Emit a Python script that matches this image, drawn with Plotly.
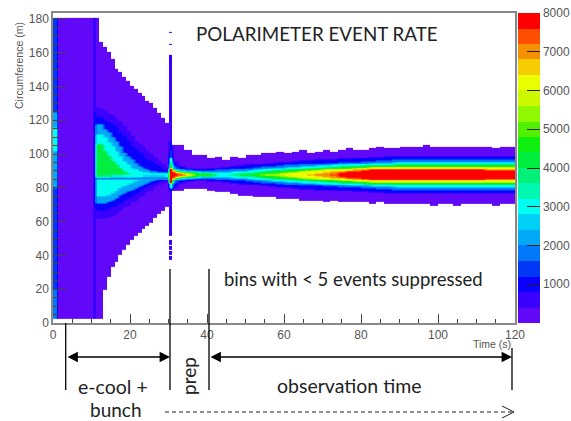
import numpy as np
import plotly.graph_objects as go

# ---------- values ----------
# left-hand columns: (t0, t1, y edges, values between edges)
STRIP_EDGES = [3, 20, 60, 80, 102, 116, 125, 181]
STRIP_VALUES = [1800, 1400, 1400, 2200, 3000, 2200, 1400]
EARLY_COLUMNS = [
    (0, 0.5, STRIP_EDGES, STRIP_VALUES),
    (0.5, 1, STRIP_EDGES, STRIP_VALUES),
    (1, 1.4, [3, 181], [300]),
    (1.4, 10.1, [3, 181], [300]),
    (10.1, 10.5, [3, 181], [300]),
    (10.5, 11, [3, 70, 125, 181], [600, 1000, 600]),
]
# injection spike column
SPIKE_T = [30, 30.3, 30.7, 31]
SPIKE_EDGES = [38, 40, 41, 43, 44, 46, 47, 50, 52, 78, 80, 83, 92, 95, 98, 102, 108, 159, 165, 166, 172, 173]
SPIKE_VALUES = [400, None, 400, None, 400, None, 400, None, 400, 1000, 3000, 7800, 4200, 3000, 1400, 1000, 400, None, 400, None, 400]

# cooling fan, one column per second from t = 11
FAN_T = [11, 12, 13, 14, 15, 16, 17, 18, 19, 20, 21, 22, 23, 24, 25, 26, 27, 28, 29, 30]
FAN_TOP = [181, 167, 164, 161, 157, 151, 149, 146, 144, 141, 139, 137, 135, 132, 131, 128, 125, 122, 119]
FAN_BOT = [3, 3, 20, 28, 34, 37, 41, 44, 47, 50, 52, 54, 56, 58, 60, 63, 65, 67, 69]
FAN_U_INDIGO = [128, 127, 126, 124, 123, 121, 119, 117, 114, 111, 108, 106, 104, 102, 100, 98, 96, 94, 92]
FAN_U_BLUE = [122, 122, 120, 119, 118, 116, 113, 111, 108, 105, 103, 101, 99, 97, 96, 94, 93, 91, 90]
FAN_U_LB = [118, 118, 115, 113, 110, 108, 105, 101, 99, 97, 95, 93, 92, 91, 90, 90, 89.5, 89.5, 89.5]
FAN_U_CYAN = [112, 112, 110, 107, 105, 102, 99, 96, 94, 92, 91, 90, 89.5, 89.5, 89, 89, 89, 89, 89]
FAN_U_GREEN = [106, 106, 102, 99, 96, 94, 92, 90, 89, 88.5, 88.5, 88.5, 88.5, 88.5, 88.5, 88.5, 88.5, 88.5, 88.5]
FAN_CENTER = [4200, 3800, 3800, 3800, 3400, 3400, 3400, 3000, 3000, 3000, 3000, 3000, 2600, 2600, 2600, 2600, 2600, 2600, 3000]
FAN_L_A = [75, 75, 75, 76, 77, 78, 80, 81, 82, 83, 84, 84.5, 85, 85, 85, 85, 85, 85, 85]
FAN_L_B = [71, 71, 71, 72, 73, 74, 76, 77, 78, 79, 80, 81, 82, 83, 84, 84.5, 85, 85, 85]
FAN_L_C = [67, 67, 67, 68, 69, 70, 71, 73, 74, 75, 77, 78, 80, 81, 82, 83, 84, 84.5, 85]
FAN_L_D = [62, 62, 62, 63, 64, 65, 67, 69, 70, 72, 73, 75, 76, 78, 79, 81, 82, 83, 84]

# store phase: column edges, beam envelope, half widths of the colour bands round 88 m
POST_T = [31, 32, 34, 36, 38, 40, 42, 44, 46, 48, 50, 52, 54, 56, 58, 60, 62, 64, 66, 68, 70, 72, 74, 76, 78, 80,
          82, 84, 86, 88, 90, 92, 94, 96, 98, 100, 102, 104, 106, 108, 110, 112, 114, 116, 118, 120]
POST_TOP = [106, 106, 103, 100, 100, 98, 99, 97, 99, 98, 100, 100, 101, 101, 102, 101, 102, 103, 101, 102, 103, 102, 103,
            104, 103, 103, 104, 105, 104, 104, 105, 105, 105, 106, 105, 105, 105, 105, 105, 105, 105, 105, 104, 105, 105]
POST_BOT = [79, 79, 80, 80, 80, 79, 78, 78, 77, 76, 76, 75, 75, 75, 74, 74, 74, 73, 73, 73, 72, 73, 72,
            72, 72, 72, 71, 72, 71, 71, 71, 71, 71, 71, 70, 71, 71, 70, 71, 71, 71, 71, 70, 71, 71]
W_BLUE = [8, 5, 4, 3.5, 3.5, 3.8, 4.2, 4.6, 5, 5.4, 5.8, 6.2, 6.6, 7, 7.3, 7.6, 8, 8.3, 8.5, 8.8, 9, 9.2, 9.3,
          9.5, 9.8, 10, 10.3, 10.6, 10.8, 11, 11, 11, 11, 11, 11, 11, 11, 11, 11, 11, 11, 11, 11, 11, 11]
W_LBLUE = [5.5, 3.5, 3, 2.5, 2.5, 2.5, 2.8, 3.1, 3.4, 3.7, 4, 4.4, 4.8, 5.2, 5.5, 5.8, 6, 6.3, 6.5, 6.7, 6.9, 7.1, 7.3,
           7.5, 7.7, 8, 8.2, 8.4, 8.6, 8.8, 9, 9, 9, 9, 9, 9, 9, 9, 9, 9, 9, 9, 9, 9, 9]
W_CYAN = [3.5, 2.3, 2, 1.8, 1.7, 1.5, 1.4, 1.5, 1.8, 2.2, 2.5, 3, 3.4, 3.8, 4.1, 4.4, 4.7, 5, 5.2, 5.5, 5.7, 5.9, 6.1,
          6.3, 6.5, 6.7, 6.9, 7, 7.2, 7.3, 7.5, 7.5, 7.5, 7.5, 7.5, 7.5, 7.5, 7.5, 7.5, 7.5, 7.5, 7.5, 7.5, 7.5, 7.5]
W_GREEN = [3, 1.8, 1.5, 1.3, 1.2, 0.8, 0, 0, 0.5, 0.9, 1.2, 1.6, 2, 2.4, 2.7, 3, 3.3, 3.6, 3.9, 4.2, 4.4, 4.6, 4.8,
           5, 5.2, 5.4, 5.5, 5.6, 5.7, 5.8, 6, 6, 6, 6, 6, 6, 6, 6, 6, 6, 6, 6, 6, 6, 6]
W_LIME = [2.7, 1.5, 1, 0.7, 0.6, 0, 0, 0, 0, 0, 0, 0.4, 0.8, 1.2, 1.6, 1.9, 2.2, 2.6, 2.9, 3.2, 3.5, 3.7, 4,
          4.2, 4.4, 4.6, 5, 5, 5, 5, 5, 5, 5, 5, 5, 5, 5, 5, 5, 5, 5, 5, 5, 5, 5]
W_YELLOW = [2.5, 1.3, 0.8, 0, 0, 0, 0, 0, 0, 0, 0, 0, 0, 0, 0.5, 1, 1.4, 1.9, 2.2, 2.5, 2.8, 3, 3.3,
            3.6, 3.8, 4, 4.3, 4.3, 4.3, 4.3, 4.3, 4.3, 4.3, 4.3, 4.3, 4.3, 4.3, 4.3, 4.3, 4.3, 4.3, 4.3, 4.3, 4.3, 4.3]
W_ORANGE = [2, 1, 0, 0, 0, 0, 0, 0, 0, 0, 0, 0, 0, 0, 0, 0, 0, 0, 0.5, 0.8, 1.3, 1.8, 2.2,
            2.5, 2.8, 3.1, 3.5, 3.5, 3.5, 3.5, 3.5, 3.5, 3.5, 3.5, 3.5, 3.5, 3.5, 3.5, 3.5, 3.5, 3.5, 3.2, 3.2, 3.2, 3.2]
W_RED = [1.5, 0.7, 0, 0, 0, 0, 0, 0, 0, 0, 0, 0, 0, 0, 0, 0, 0, 0, 0, 0, 0, 0.6, 1.3,
         1.8, 2.2, 2.6, 2.8, 3, 3, 3, 3, 3, 3, 3, 3, 3, 3, 3, 3, 3, 3, 2.7, 2.7, 2.7, 2.7]

CENTER_Y = 88
BAR_TICKS = [1000, 2000, 3000, 4000, 5000, 6000, 7000, 8000]
AXIS_TICKS = [0, 20, 40, 60, 80, 100, 120]
Y_TICKS = [0, 20, 40, 60, 80, 100, 120, 140, 160, 180]
PALETTE = ["#6208f8", "#3a00ff", "#0a00ff", "#0038f5", "#0078fa", "#00a8f5", "#00d0f5", "#00fff0", "#00f8b0", "#00f078",
           "#00ee40", "#10f010", "#50f000", "#90f800", "#ccf800", "#eaff00", "#f5cc00", "#f59000", "#ff5000", "#ff0000"]

# ---------- build the histogram from the readings ----------
y_edges = np.arange(0, 183.01, 0.5)
y_mid = (y_edges[:-1] + y_edges[1:]) / 2
columns = []


def add_runs(t0, t1, edges, values):
    col = np.full(y_mid.shape, np.nan)
    for lo, hi, v in zip(edges[:-1], edges[1:], values):
        if v is not None:
            col[(y_mid >= lo) & (y_mid < hi)] = v
    columns.append((t0, t1, col))


for t0, t1, e, v in EARLY_COLUMNS:
    add_runs(t0, t1, e, v)

for i in range(len(FAN_TOP)):
    e = [FAN_BOT[i], FAN_L_D[i], FAN_L_C[i], FAN_L_B[i], FAN_L_A[i], 85.5, 86.5, 88.5,
         FAN_U_GREEN[i], FAN_U_CYAN[i], FAN_U_LB[i], FAN_U_BLUE[i], FAN_U_INDIGO[i], FAN_TOP[i]]
    v = [300, 600, 1000, 2200, 2800, 1800, FAN_CENTER[i], 4200, 3000, 2200, 1000, 600, 300]
    add_runs(FAN_T[i], FAN_T[i + 1], e, v)

for t0, t1 in zip(SPIKE_T[:-1], SPIKE_T[1:]):
    add_runs(t0, t1, SPIKE_EDGES, SPIKE_VALUES)

for i in range(len(POST_TOP)):
    d = np.abs(y_mid - CENTER_Y)
    col = np.full(y_mid.shape, 300.0)
    for w, v in [(W_BLUE, 1000), (W_LBLUE, 1800), (W_CYAN, 3000), (W_GREEN, 4200), (W_LIME, 5200),
                 (W_YELLOW, 6200), (W_ORANGE, 7000), (W_RED, 7800)]:
        col[d < w[i]] = v
    col[(y_mid >= POST_TOP[i]) | (y_mid < POST_BOT[i])] = np.nan
    columns.append((POST_T[i], POST_T[i + 1], col))

x_edges = [c[0] for c in columns] + [columns[-1][1]]
z = np.array([c[2] for c in columns]).T
z_list = [[None if np.isnan(v) else float(v) for v in row] for row in z]

colorscale = []
for k, c in enumerate(PALETTE):
    colorscale += [[k / len(PALETTE), c], [(k + 1) / len(PALETTE), c]]

# ---------- page geometry ----------
W, H = 571, 421
L, R, T, B = 53, 515, 13, 323


def px(x):
    return (x - L) / (R - L)


def py(y):
    return (B - y) / (B - T)


fig = go.Figure(go.Heatmap(
    x=x_edges, y=y_edges, z=z_list, zmin=0, zmax=8000, colorscale=colorscale, zsmooth="best",
    hoverongaps=False,
    colorbar=dict(x=px(518), xanchor="left", xpad=0, y=0, yanchor="bottom", ypad=0, len=1, lenmode="fraction",
                  thickness=22, thicknessmode="pixels", outlinewidth=0, tickmode="array", tickvals=BAR_TICKS,
                  ticks="inside", ticklen=13, tickwidth=1, tickcolor="#222",
                  tickfont=dict(family="Liberation Sans", size=12, color="#555")),
))

axis_font = dict(family="Liberation Sans", size=12, color="#555")
fig.update_layout(
    width=W, height=H, margin=dict(l=L, r=W - R, t=T, b=H - B, pad=0, autoexpand=False),
    paper_bgcolor="white", plot_bgcolor="white", showlegend=False,
    xaxis=dict(range=[0, 120], tickmode="array", tickvals=AXIS_TICKS, ticks="inside", ticklen=9, tickwidth=1, tickcolor="#444",
               minor=dict(dtick=5, ticks="inside", ticklen=4, tickcolor="#444", showgrid=False),
               showgrid=False, zeroline=False, showline=True, linecolor="#888", linewidth=1.5, mirror=True, tickfont=axis_font),
    yaxis=dict(range=[0, 183.5], tickmode="array", tickvals=Y_TICKS, ticks="inside", ticklen=13, tickwidth=1, tickcolor="#444",
               minor=dict(dtick=5, ticks="inside", ticklen=6, tickcolor="#444", showgrid=False),
               showgrid=False, zeroline=False, showline=True, linecolor="#888", linewidth=1.5, mirror=True, tickfont=axis_font),
)

# ---------- overlays ----------


def label(x, y, text, size, angle=0, family="Lato", color="#222"):
    fig.add_annotation(xref="paper", yref="paper", x=px(x), y=py(y), text=text, showarrow=False, textangle=angle,
                       xanchor="center", yanchor="middle", borderpad=0, font=dict(family=family, size=size, color=color))


label(317, 33, "POLARIMETER EVENT RATE", 18.8)
label(353, 279, "bins with &lt; 5 events suppressed", 18.5)
label(113, 386, "e-cool +", 19.5)
label(116, 409, "bunch", 19)
label(188, 376, "prep", 19, angle=-90)
label(349, 385, "observation time", 19.5)
label(492, 344, "Time (s)", 10.5, family="Liberation Sans", color="#555")
label(19, 66, "Circumference (m)", 10.5, angle=-90, family="Liberation Sans", color="#555")

for x, y0, y1 in [(65.7, 323, 390), (170, 269, 390), (209, 269, 390), (512, 348, 390)]:
    fig.add_shape(type="line", xref="paper", yref="paper", x0=px(x), x1=px(x), y0=py(y0), y1=py(y1),
                  line=dict(color="black", width=1.3))

for x0, x1 in [(66, 170), (209, 512)]:
    fig.add_annotation(xref="paper", yref="paper", x=px(x1), y=py(357), ax=x0 - x1, ay=0, text="", showarrow=True,
                       arrowside="end+start", arrowhead=2, arrowsize=1.3, arrowwidth=1.6, arrowcolor="black",
                       standoff=0, startstandoff=0)

fig.add_shape(type="line", xref="paper", yref="paper", x0=px(165), x1=px(513), y0=py(412), y1=py(412),
              line=dict(color="#222", width=1, dash="4px,3px"))
for dy in (-6, 6):
    fig.add_shape(type="line", xref="paper", yref="paper", x0=px(502), x1=px(514), y0=py(412 + dy), y1=py(412),
                  line=dict(color="#222", width=1))

fig.write_html("out.html", config=dict(displayModeBar=False),
               post_script="document.body.style.margin='0';document.documentElement.style.overflow='hidden';")
